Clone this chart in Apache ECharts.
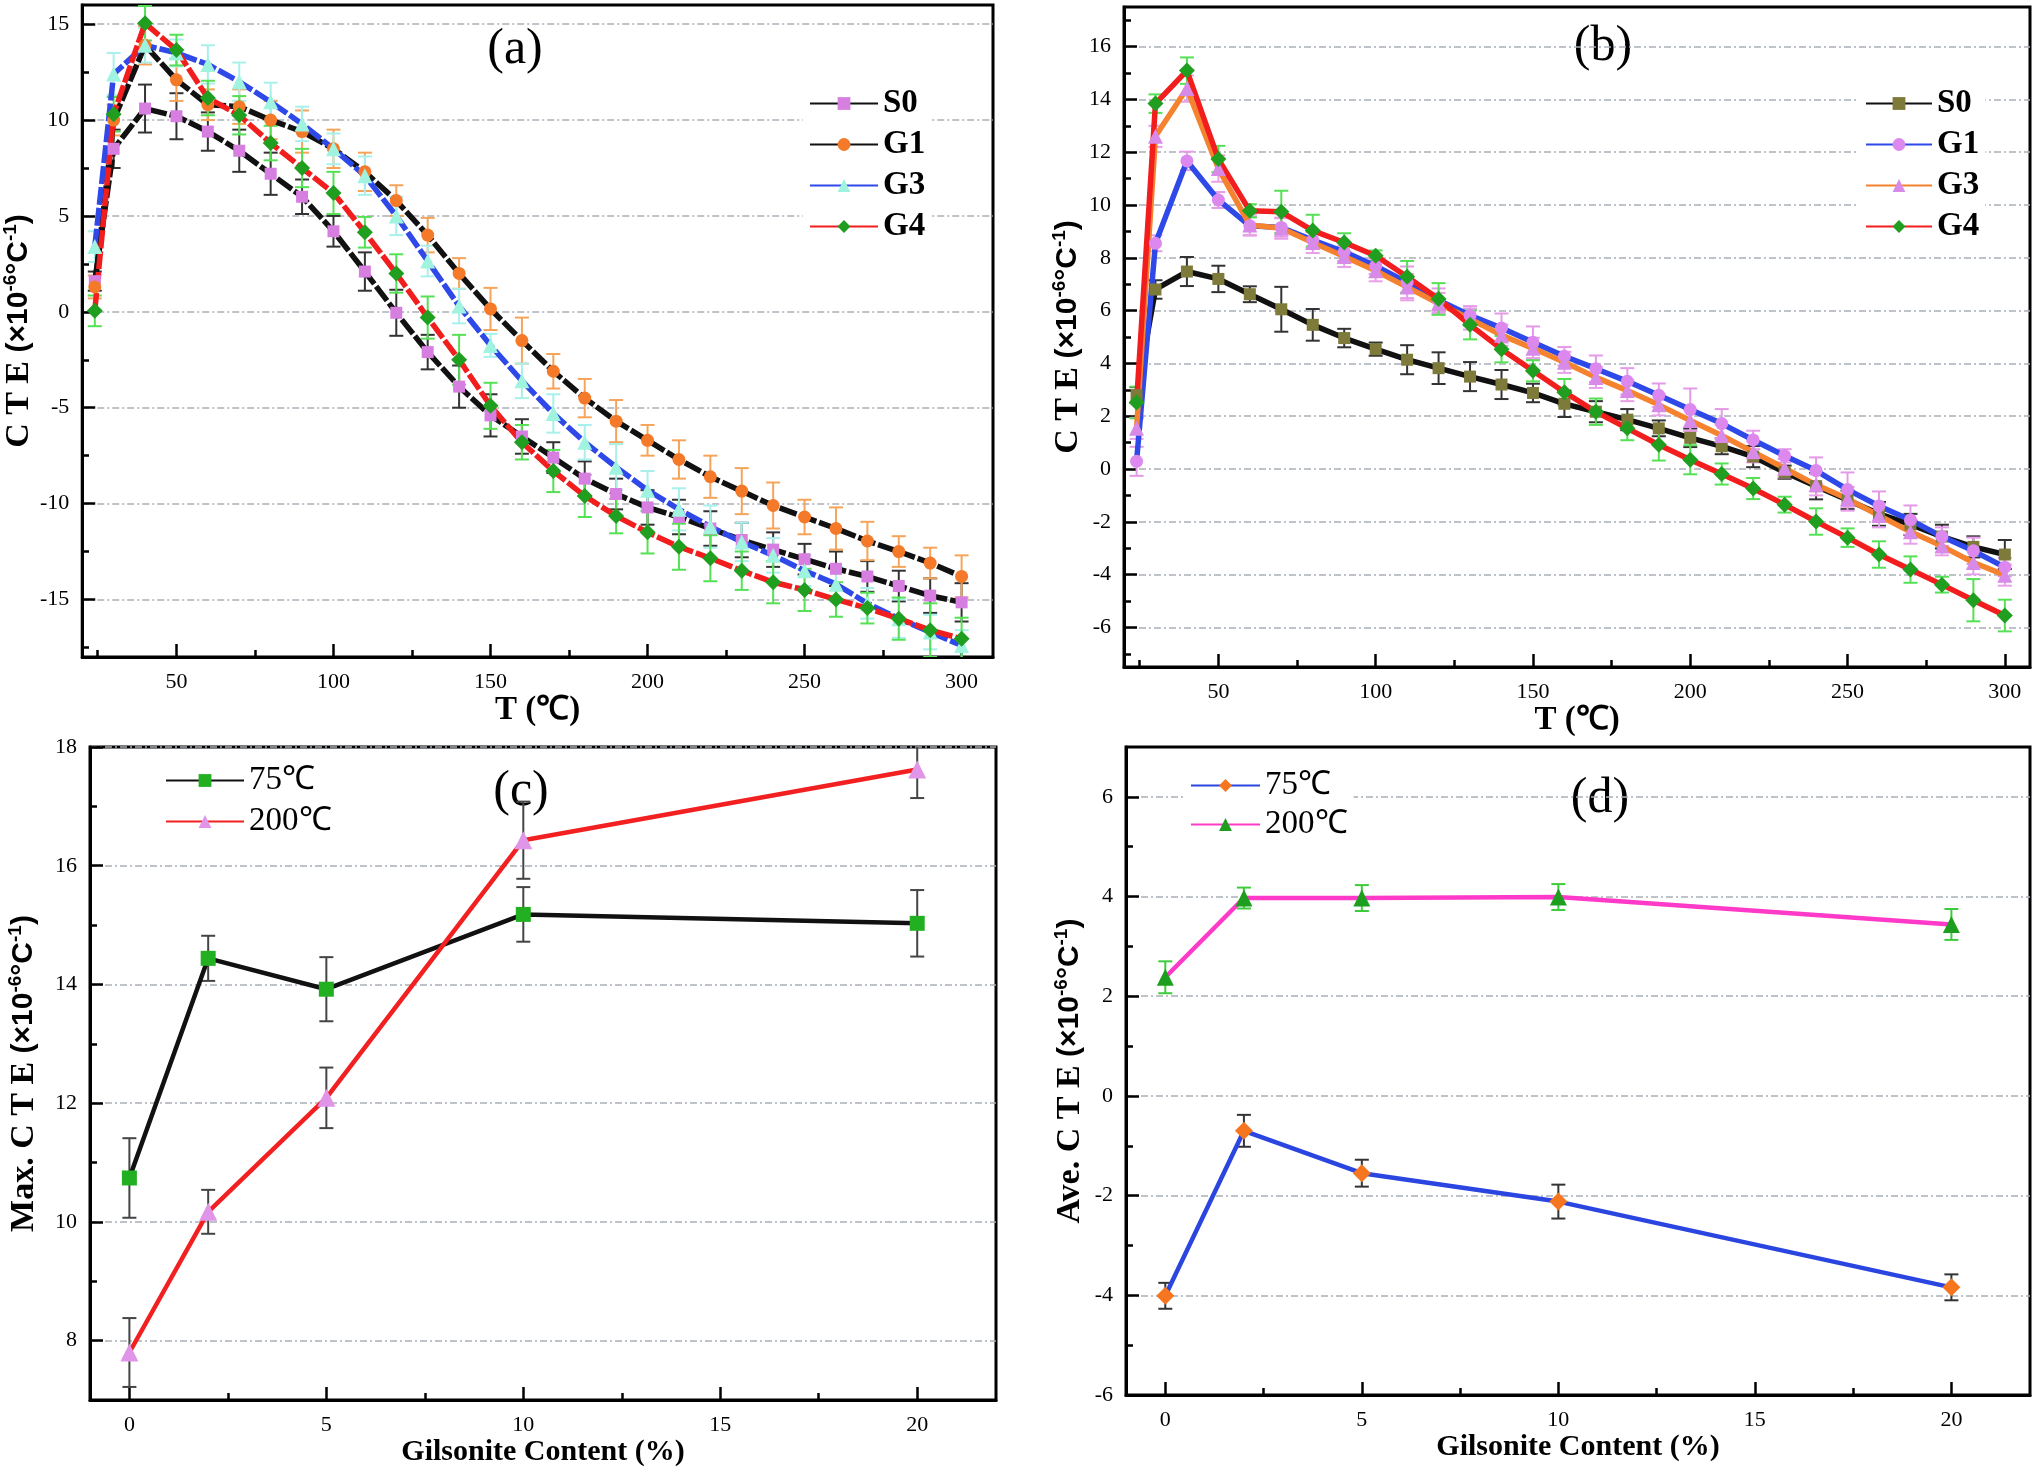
<!DOCTYPE html>
<html>
<head>
<meta charset="utf-8">
<script src="https://cdn.jsdelivr.net/npm/echarts@6/dist/echarts.min.js"></script>
<style>
    html, body { margin: 0; padding: 0; background: #fff; }
    #chart { width: 2032px; height: 1473px; }
</style>
</head>
<body>
<div id="chart"></div>
<script>
// temperatures (a), (b)
var temps = [24, 30, 40, 50, 60, 70, 80, 90, 100, 110, 120, 130, 140, 150, 160, 170, 180, 190, 200, 210, 220, 230, 240, 250, 260, 270, 280, 290, 300];

// panel (a)
var aS0 = [1.6, 8.5, 10.6, 10.2, 9.4, 8.4, 7.2, 6.0, 4.2, 2.1, -0.05, -2.1, -3.9, -5.4, -6.5, -7.6, -8.7, -9.5, -10.2, -10.7, -11.3, -11.9, -12.4, -12.9, -13.4, -13.8, -14.3, -14.8, -15.15];
var aG1 = [1.3, 10.0, 13.9, 12.1, 10.8, 10.7, 10.0, 9.4, 8.5, 7.3, 5.8, 4.0, 2.0, 0.15, -1.5, -3.1, -4.5, -5.7, -6.7, -7.7, -8.6, -9.35, -10.1, -10.7, -11.3, -11.95, -12.5, -13.1, -13.8];
var aG3 = [3.4, 12.4, 13.9, 13.5, 12.9, 12.0, 10.95, 9.8, 8.5, 7.1, 5.0, 2.65, 0.3, -1.75, -3.6, -5.3, -6.8, -8.1, -9.3, -10.3, -11.2, -12.0, -12.7, -13.5, -14.2, -15.2, -16.0, -16.7, -17.4];
var aG4 = [0.05, 10.3, 15.05, 13.65, 11.15, 10.25, 8.8, 7.5, 6.2, 4.15, 2.0, -0.3, -2.5, -4.9, -6.8, -8.3, -9.6, -10.65, -11.5, -12.25, -12.85, -13.5, -14.1, -14.5, -15.0, -15.45, -16.0, -16.6, -17.05];
var aS0err = [0.5, 1.0, 1.25, 1.2, 1.0, 1.1, 1.1, 0.9, 0.8, 1.0, 1.2, 0.9, 1.1, 1.1, 0.9, 0.8, 0.9, 0.8, 0.9, 0.9, 0.9, 0.9, 0.9, 0.8, 0.9, 0.8, 0.8, 0.9, 1.0];
var aG1err = [0.6, 0.8, 1.0, 1.1, 0.8, 0.9, 1.0, 1.1, 1.0, 1.0, 0.8, 0.9, 0.8, 1.1, 1.2, 0.9, 1.0, 1.1, 0.8, 1.0, 1.1, 1.2, 1.2, 0.9, 1.1, 1.0, 0.8, 0.8, 1.1];
var aG3err = [0.8, 1.1, 0.9, 0.7, 1.0, 1.0, 1.0, 0.9, 0.8, 1.0, 1.0, 0.8, 0.9, 0.6, 0.9, 1.0, 0.9, 1.2, 1.0, 1.1, 1.1, 1.0, 0.9, 0.8, 0.9, 0.8, 1.0, 0.9, 0.8];
var aG4err = [0.8, 0.9, 0.9, 0.8, 0.9, 1.0, 0.9, 1.0, 1.1, 0.8, 1.0, 1.1, 1.3, 1.2, 0.9, 1.1, 1.1, 0.9, 1.1, 1.2, 1.2, 1.0, 1.1, 1.1, 0.9, 0.8, 1.1, 1.4, 1.1];

// panel (b)
var bS0 = [2.8, 6.8, 7.48, 7.2, 6.62, 6.05, 5.46, 4.96, 4.54, 4.14, 3.82, 3.5, 3.2, 2.88, 2.47, 2.17, 1.87, 1.54, 1.18, 0.86, 0.47, -0.12, -0.65, -1.17, -1.7, -2.1, -2.56, -2.95, -3.24];
var bG1 = [0.29, 8.55, 11.67, 10.19, 9.21, 9.15, 8.67, 8.23, 7.69, 7.07, 6.39, 5.82, 5.34, 4.8, 4.27, 3.8, 3.32, 2.79, 2.25, 1.72, 1.1, 0.5, -0.06, -0.78, -1.4, -1.93, -2.56, -3.1, -3.72];
var bG3 = [1.54, 12.6, 14.41, 11.38, 9.24, 9.12, 8.58, 8.05, 7.51, 6.89, 6.27, 5.68, 5.07, 4.57, 4.04, 3.47, 2.97, 2.43, 1.84, 1.27, 0.65, 0.03, -0.6, -1.13, -1.76, -2.38, -2.92, -3.54, -4.02];
var bG4 = [2.52, 13.84, 15.09, 11.74, 9.78, 9.74, 9.03, 8.58, 8.08, 7.28, 6.44, 5.46, 4.54, 3.72, 2.91, 2.17, 1.54, 0.92, 0.35, -0.19, -0.74, -1.35, -1.99, -2.6, -3.24, -3.81, -4.38, -4.97, -5.55];
var bS0err = [0.3, 0.35, 0.55, 0.5, 0.3, 0.85, 0.6, 0.35, 0.25, 0.55, 0.6, 0.55, 0.55, 0.35, 0.5, 0.4, 0.4, 0.3, 0.35, 0.3, 0.4, 0.25, 0.5, 0.35, 0.45, 0.4, 0.45, 0.4, 0.55];
var bG1err = [0.55, 0.3, 0.35, 0.3, 0.35, 0.35, 0.3, 0.35, 0.3, 0.6, 0.45, 0.35, 0.55, 0.6, 0.35, 0.5, 0.5, 0.45, 0.8, 0.55, 0.35, 0.25, 0.5, 0.65, 0.55, 0.55, 0.35, 0.5, 0.35];
var bG3err = [0.4, 0.4, 0.5, 0.5, 0.4, 0.4, 0.4, 0.4, 0.4, 0.5, 0.4, 0.4, 0.4, 0.4, 0.4, 0.4, 0.4, 0.4, 0.4, 0.4, 0.4, 0.35, 0.4, 0.45, 0.45, 0.45, 0.35, 0.45, 0.4];
var bG4err = [0.6, 0.35, 0.5, 0.5, 0.25, 0.8, 0.6, 0.35, 0.2, 0.6, 0.6, 0.55, 0.5, 0.4, 0.5, 0.5, 0.45, 0.6, 0.55, 0.4, 0.4, 0.3, 0.5, 0.35, 0.5, 0.5, 0.3, 0.8, 0.6];

// panels (c), (d): gilsonite content (%)
var content = [0, 2, 5, 10, 20];
var cMax75 = [10.74, 14.44, 13.92, 15.18, 15.03];
var cMax75err = [0.67, 0.38, 0.54, 0.46, 0.56];
var cMax200 = [7.8, 10.17, 12.09, 16.43, 17.62];
var cMax200err = [0.58, 0.37, 0.51, 0.65, 0.48];
var dAve75 = [-4.01, -0.7, -1.55, -2.12, -3.84];
var dAve75err = [0.26, 0.32, 0.27, 0.34, 0.26];
var dAve200 = [2.38, 3.97, 3.97, 3.99, 3.44];
var dAve200err = [0.32, 0.21, 0.26, 0.26, 0.31];

// tick labels
var tLabels = [50, 100, 150, 200, 250, 300];
var tMinor = [25, 75, 125, 175, 225, 275];
var aYLabels = [-15, -10, -5, 0, 5, 10, 15];
var aYMinor = [-17.5, -12.5, -7.5, -2.5, 2.5, 7.5, 12.5];
var bYLabels = [-6, -4, -2, 0, 2, 4, 6, 8, 10, 12, 14, 16];
var bYMinor = [-7, -5, -3, -1, 1, 3, 5, 7, 9, 11, 13, 15, 17];
var gLabels = [0, 5, 10, 15, 20];
var gMinor = [2.5, 7.5, 12.5, 17.5];
var cYLabels = [8, 10, 12, 14, 16, 18];
var cYMinor = [7, 9, 11, 13, 15, 17];
var dYLabels = [-6, -4, -2, 0, 2, 4, 6];
var dYMinor = [-5, -3, -1, 1, 3, 5];

var SERIF = 'Liberation Serif';
var SANS = 'Liberation Sans';

var rects = [
    {left: 82, top: 5, width: 911, height: 652},
    {left: 1124, top: 7, width: 906, height: 660},
    {left: 90, top: 747, width: 906, height: 653},
    {left: 1126, top: 747, width: 904, height: 648}
];

function zip(xs, ys, es) {
    var out = [];
    for (var i = 0; i < xs.length; i++) {
        out.push(es ? [xs[i], ys[i], es[i]] : [xs[i], ys[i]]);
    }
    return out;
}

function errRender(color) {
    return function (params, api) {
        var x = api.value(0), y = api.value(1), e = api.value(2);
        var hi = api.coord([x, y + e]);
        var lo = api.coord([x, y - e]);
        var w = 7;
        var st = {stroke: color, lineWidth: 2};
        return {
            type: 'group',
            children: [
                {type: 'line', shape: {x1: hi[0], y1: hi[1], x2: lo[0], y2: lo[1]}, style: st},
                {type: 'line', shape: {x1: hi[0] - w, y1: hi[1], x2: hi[0] + w, y2: hi[1]}, style: st},
                {type: 'line', shape: {x1: lo[0] - w, y1: lo[1], x2: lo[0] + w, y2: lo[1]}, style: st}
            ]
        };
    };
}

function mainX(g, min, max, ticks, name, gap, nameSize) {
    return {
        type: 'value', gridIndex: g, min: min, max: max, position: 'bottom',
        name: name, nameLocation: 'middle', nameGap: gap,
        nameTextStyle: {fontFamily: SERIF, fontWeight: 'bold', fontSize: nameSize, color: '#000'},
        axisLine: {show: true, onZero: false, lineStyle: {color: '#000', width: 3}},
        axisTick: {show: true, inside: true, length: 13, customValues: ticks, lineStyle: {color: '#000', width: 2.5}},
        axisLabel: {customValues: ticks, fontFamily: SERIF, fontSize: 22, color: '#000', margin: 14},
        splitLine: {show: false}
    };
}

function mainY(g, min, max, ticks, name, gap) {
    return {
        type: 'value', gridIndex: g, min: min, max: max, position: 'left',
        name: name, nameLocation: 'middle', nameGap: gap, nameRotate: 90,
        nameTextStyle: {
            color: '#000',
            rich: {
                s: {fontFamily: SERIF, fontWeight: 'bold', fontSize: 34, lineHeight: 36},
                p: {fontFamily: SANS, fontWeight: 'bold', fontSize: 30, lineHeight: 36},
                u: {fontFamily: SANS, fontWeight: 'bold', fontSize: 19, lineHeight: 36, verticalAlign: 'top'}
            }
        },
        axisLine: {show: true, onZero: false, lineStyle: {color: '#000', width: 3}},
        axisTick: {show: true, inside: true, length: 13, customValues: ticks, lineStyle: {color: '#000', width: 2.5}},
        axisLabel: {customValues: ticks, fontFamily: SERIF, fontSize: 22, color: '#000', margin: 13},
        splitLine: {show: true, lineStyle: {color: '#a9aeb8', width: 1.6, type: [7, 3, 2, 3]}}
    };
}

function minorAxis(g, min, max, ticks, pos) {
    return {
        type: 'value', gridIndex: g, min: min, max: max, position: pos,
        axisLine: {show: false, onZero: false},
        axisTick: {show: true, inside: true, length: 7, customValues: ticks, lineStyle: {color: '#000', width: 2.5}},
        axisLabel: {show: false},
        splitLine: {show: false}
    };
}

var cteName = '{s|C T E }{p|(×10}{u|-6}{p|°C}{u|-1}{p|)}';

var grids = [];
for (var i = 0; i < 8; i++) {
    var r = rects[i % 4];
    grids.push({
        left: r.left, top: r.top, width: r.width, height: r.height,
        show: i < 4, borderColor: '#000', borderWidth: 3, backgroundColor: 'transparent'
    });
}

var xAxes = [
    mainX(0, 20, 310, tLabels, 'T (℃)', 37, 33),
    mainX(1, 20, 308, tLabels, 'T (℃)', 30, 33),
    mainX(2, -1, 22, gLabels, 'Gilsonite Content (%)', 33, 30),
    mainX(3, -1, 22, gLabels, 'Gilsonite Content (%)', 37, 30),
    minorAxis(4, 20, 310, tMinor, 'bottom'),
    minorAxis(5, 20, 308, tMinor, 'bottom'),
    minorAxis(6, -1, 22, gMinor, 'bottom'),
    minorAxis(7, -1, 22, gMinor, 'bottom')
];
var yAxes = [
    mainY(0, -18, 16, aYLabels, cteName, 38),
    mainY(1, -7.5, 17.5, bYLabels, cteName, 38),
    mainY(2, 7, 18, cYLabels, '{s|Max. C T E }{p|(×10}{u|-6}{p|°C}{u|-1}{p|)}', 48),
    mainY(3, -6, 7, dYLabels, '{s|Ave. C T E }{p|(×10}{u|-6}{p|°C}{u|-1}{p|)}', 38),
    minorAxis(4, -18, 16, aYMinor, 'left'),
    minorAxis(5, -7.5, 17.5, bYMinor, 'left'),
    minorAxis(6, 7, 18, cYMinor, 'left'),
    minorAxis(7, -6, 7, dYMinor, 'left')
];

var series = [];
function addSeries(g, name, xs, ys, es, lineColor, width, symbol, size, markColor, errColor, dash) {
    series.push({
        name: name + ' err', type: 'custom', xAxisIndex: g, yAxisIndex: g,
        renderItem: errRender(errColor), clip: true, z: 1,
        encode: {x: 0, y: 1}, data: zip(xs, ys, es)
    });
    series.push({
        name: name, type: 'line', xAxisIndex: g, yAxisIndex: g, z: 3,
        symbol: symbol, symbolSize: size,
        lineStyle: {color: lineColor, width: width, type: dash || 'solid'},
        itemStyle: {color: markColor},
        data: zip(xs, ys)
    });
}

addSeries(0, 'a:S0', temps, aS0, aS0err, '#111', 5.5, 'rect', 12, '#d77fe0', '#333', [18, 3]);
addSeries(0, 'a:G1', temps, aG1, aG1err, '#111', 5.5, 'circle', 13, '#f47a2a', '#f5a45a', [18, 3]);
addSeries(0, 'a:G3', temps, aG3, aG3err, '#2f48e8', 5.5, 'triangle', 15, '#9ff3df', '#a8f0ec', [18, 3]);
addSeries(0, 'a:G4', temps, aG4, aG4err, '#f21d1d', 5.5, 'diamond', 16, '#1f9e1f', '#55e055', [18, 3]);

addSeries(1, 'b:S0', temps, bS0, bS0err, '#111', 5.5, 'rect', 12, '#7d7a3a', '#333');
addSeries(1, 'b:G1', temps, bG1, bG1err, '#2f48e8', 5.5, 'circle', 13, '#dd88ee', '#e49ae8');
addSeries(1, 'b:G3', temps, bG3, bG3err, '#f4822e', 5.5, 'triangle', 15, '#d88ae8', '#e8a0e8');
addSeries(1, 'b:G4', temps, bG4, bG4err, '#f21d1d', 5.5, 'diamond', 16, '#1f9e1f', '#55e055');

addSeries(2, 'c:75℃', content, cMax75, cMax75err, '#111', 4.5, 'rect', 15, '#22b022', '#444');
addSeries(2, 'c:200℃', content, cMax200, cMax200err, '#f22020', 4.5, 'triangle', 18, '#e095e8', '#444');

addSeries(3, 'd:75℃', content, dAve75, dAve75err, '#2a45e0', 4.5, 'diamond', 18, '#f5761e', '#333');
addSeries(3, 'd:200℃', content, dAve200, dAve200err, '#ff3ac8', 4.5, 'triangle', 17, '#1e9e1e', '#3ccc3c');

function legendAt(left, top, names, width, bold, gap) {
    return {
        left: left, top: top, orient: 'vertical', data: names,
        itemWidth: width, itemHeight: 16, itemGap: gap,
        padding: [4, 6, 4, 6], backgroundColor: '#fff',
        lineStyle: {type: 'solid'},
        formatter: function (n) { return '{t|' + n.split(':')[1] + '}'; },
        textStyle: {
            color: '#000',
            rich: {
                t: {fontFamily: SERIF, fontWeight: bold ? 'bold' : 'normal', fontSize: 33, lineHeight: 36, color: '#000'}
            }
        }
    };
}

var option = {
    animation: false,
    backgroundColor: '#fff',
    textStyle: {fontFamily: SERIF},
    grid: grids,
    xAxis: xAxes,
    yAxis: yAxes,
    legend: [
        legendAt(803, 83, ['a:S0', 'a:G1', 'a:G3', 'a:G4'], 68, true, 8),
        legendAt(1859, 83, ['b:S0', 'b:G1', 'b:G3', 'b:G4'], 66, true, 8),
        legendAt(159, 760, ['c:75℃', 'c:200℃'], 78, false, 8),
        legendAt(1184, 765, ['d:75℃', 'd:200℃'], 69, false, 6)
    ],
    graphic: [
        {type: 'text', x: 515, y: 50, style: {text: '(a)', font: '50px "Liberation Serif"', fill: '#000', align: 'center', verticalAlign: 'middle'}},
        {type: 'text', x: 1603, y: 47, style: {text: '(b)', font: '50px "Liberation Serif"', fill: '#000', align: 'center', verticalAlign: 'middle'}},
        {type: 'text', x: 521, y: 792, style: {text: '(c)', font: '50px "Liberation Serif"', fill: '#000', align: 'center', verticalAlign: 'middle'}},
        {type: 'text', x: 1600, y: 799, style: {text: '(d)', font: '50px "Liberation Serif"', fill: '#000', align: 'center', verticalAlign: 'middle'}}
    ],
    series: series
};

var myChart = echarts.init(document.getElementById('chart'));
myChart.setOption(option);
</script>
</body>
</html>
